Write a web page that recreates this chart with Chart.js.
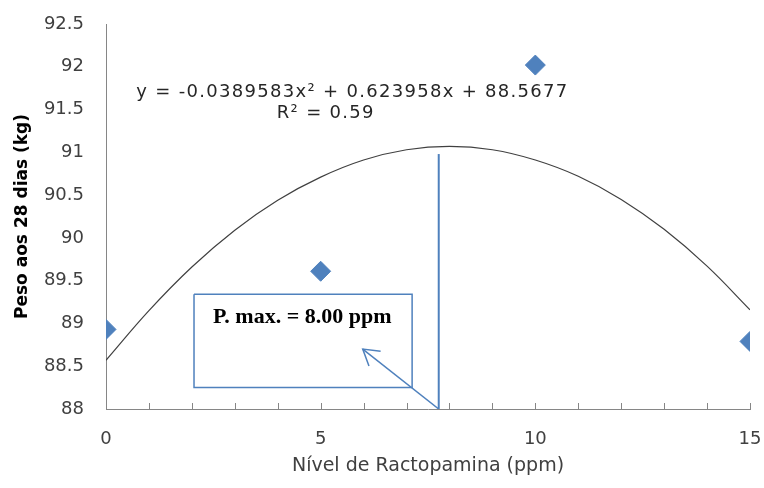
<!DOCTYPE html>
<html>
<head>
<meta charset="utf-8">
<script src="https://cdn.jsdelivr.net/npm/chart.js@4.4.0/dist/chart.umd.min.js"></script>
<style>
    html, body { margin: 0; padding: 0; background: #fff; }
</style>
</head>
<body>
<canvas id="chart" width="764" height="488"></canvas>
<script>
    "use strict";

    // Observed means (ppm -> kg)
    const levels = [0, 5, 10, 15];
    const weights = [88.93, 89.61, 92.02, 88.79];

    // Quadratic trend line, read at every ppm step
    const trendX = [0, 1, 2, 3, 4, 5, 6, 7, 8, 9, 10, 11, 12, 13, 14, 15];
    const trendY = [88.57, 89.15, 89.66, 90.09, 90.44, 90.71, 90.91, 91.03,
                    91.07, 91.03, 90.91, 90.72, 90.45, 90.10, 89.67, 89.16];

    // Axis ranges / labels
    const xRange = [0, 15];
    const yRange = [88, 92.5];
    const xLabelEvery = 5;

    // Annotation (maximum point marker and call-out box)
    const pMaxX = [7.75, 7.75];
    const pMaxY = [88, 90.98];
    const boxX = [2.05, 7.13, 7.13, 2.05, 2.05];
    const boxY = [89.34, 89.34, 88.25, 88.25, 89.34];
    const arrowX = [7.75, 5.98];
    const arrowY = [88, 88.70];

    const equation = "y = -0.0389583x\u00B2 + 0.623958x + 88.5677";
    const rSquared = "R\u00B2 = 0.59";
    const pMaxText = "P. max. = 8.00 ppm";

    const blue = "#4f81bd";
    const axisGrey = "#868686";
    const tickFont = { family: "'DejaVu Sans'", size: 18 };

    const pts = (xs, ys) => xs.map((x, i) => ({ x: x, y: ys[i] }));

    // inward minor tick marks, arrow head and texts
    const extras = {
        id: "extras",
        afterDraw(chart) {
            const ctx = chart.ctx;
            const xs = chart.scales.x;
            const ys = chart.scales.y;
            ctx.save();

            // tick marks pointing into the plot
            ctx.strokeStyle = axisGrey;
            ctx.lineWidth = 1;
            xs.ticks.forEach(t => {
                const px = Math.round(xs.getPixelForValue(t.value)) + 0.5;
                ctx.beginPath();
                ctx.moveTo(px, ys.bottom);
                ctx.lineTo(px, ys.bottom - 6);
                ctx.stroke();
            });

            // arrow head
            const tx = xs.getPixelForValue(arrowX[1]);
            const ty = ys.getPixelForValue(arrowY[1]);
            const fx = xs.getPixelForValue(arrowX[0]);
            const fy = ys.getPixelForValue(arrowY[0]);
            const ang = Math.atan2(fy - ty, fx - tx);
            const len = 18, spread = 0.55;
            ctx.strokeStyle = blue;
            ctx.lineWidth = 1.5;
            ctx.beginPath();
            ctx.moveTo(tx + len * Math.cos(ang - spread), ty + len * Math.sin(ang - spread));
            ctx.lineTo(tx, ty);
            ctx.lineTo(tx + len * Math.cos(ang + spread), ty + len * Math.sin(ang + spread));
            ctx.stroke();

            // trend equation
            ctx.fillStyle = "#262626";
            ctx.textAlign = "center";
            ctx.textBaseline = "middle";
            ctx.font = "18px 'DejaVu Sans'";
            ctx.letterSpacing = "1.3px";
            ctx.fillText(equation, xs.getPixelForValue(5.74), ys.getPixelForValue(91.70));
            ctx.fillText(rSquared, xs.getPixelForValue(5.12), ys.getPixelForValue(91.46));
            ctx.letterSpacing = "0px";

            // call-out text
            ctx.fillStyle = "#000";
            ctx.font = "bold 22px 'Liberation Serif'";
            ctx.fillText(pMaxText, xs.getPixelForValue(4.57), ys.getPixelForValue(89.07));
            ctx.restore();
        }
    };

    const ctx = document.getElementById("chart").getContext("2d");
    const chart = new Chart(ctx, {
        type: "scatter",
        data: {
            datasets: [{
                label: "Peso",
                data: pts(levels, weights),
                pointStyle: "rectRot",
                pointRadius: 10,
                pointBackgroundColor: blue,
                pointBorderColor: blue,
                showLine: false,
                order: 0
            },
            {
                label: "Tendência",
                data: pts(trendX, trendY),
                showLine: true,
                borderColor: "#404040",
                borderWidth: 1.2,
                pointRadius: 0,
                tension: 0.4,
                order: 1
            },
            {
                label: "P. max",
                data: pts(pMaxX, pMaxY),
                showLine: true,
                borderColor: blue,
                borderWidth: 2,
                pointRadius: 0,
                order: 2
            },
            {
                label: "Caixa",
                data: pts(boxX, boxY),
                showLine: true,
                borderColor: blue,
                borderWidth: 1.5,
                pointRadius: 0,
                tension: 0,
                order: 2
            },
            {
                label: "Seta",
                data: pts(arrowX, arrowY),
                showLine: true,
                borderColor: blue,
                borderWidth: 1.5,
                pointRadius: 0,
                order: 2
            }]
        },
        options: {
            responsive: false,
            animation: false,
            layout: { padding: { top: 24, right: 14, left: 0, bottom: 0 } },
            plugins: {
                legend: { display: false },
                tooltip: { enabled: false }
            },
            scales: {
                x: {
                    type: "linear",
                    min: xRange[0],
                    max: xRange[1],
                    afterFit(scale) {
                        scale.height = 79;
                        scale.paddingLeft = 0;
                        scale.paddingRight = 0;
                    },
                    border: { display: true, color: axisGrey, width: 1 },
                    grid: { display: true, drawOnChartArea: false, drawTicks: false },
                    ticks: {
                        stepSize: 1,
                        autoSkip: false,
                        maxRotation: 0,
                        padding: 20,
                        color: "#404040",
                        font: tickFont,
                        callback: v => (v % xLabelEvery === 0 ? String(v) : "")
                    },
                    title: {
                        display: true,
                        text: "Nível de Ractopamina (ppm)",
                        color: "#404040",
                        font: { family: "'DejaVu Sans'", size: 19 },
                        padding: { top: 0, bottom: 11 }
                    }
                },
                y: {
                    min: yRange[0],
                    max: yRange[1],
                    afterFit(scale) {
                        scale.width = 106;
                        scale.paddingTop = 0;
                        scale.paddingBottom = 0;
                    },
                    border: { display: true, color: axisGrey, width: 1 },
                    grid: { display: false, drawTicks: false },
                    ticks: {
                        stepSize: 0.5,
                        padding: 22,
                        color: "#404040",
                        font: tickFont,
                        callback: v => String(Math.round(v * 10) / 10)
                    },
                    title: {
                        display: true,
                        text: "Peso aos 28 dias (kg)",
                        color: "#000",
                        font: { family: "'DejaVu Sans'", size: 17, weight: "bold" },
                        padding: { top: 12, bottom: 0 }
                    }
                }
            }
        },
        plugins: [extras]
    });
</script>
</body>
</html>
